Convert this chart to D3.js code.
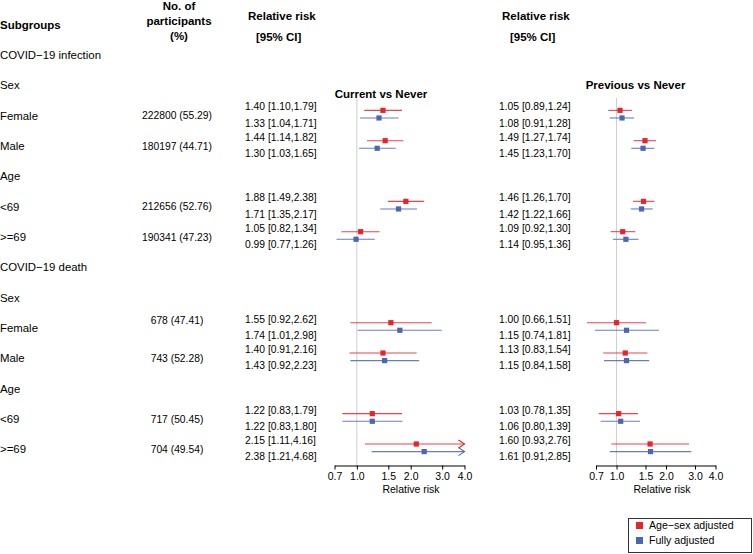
<!DOCTYPE html>
<html>
<head>
<meta charset="utf-8">
<script src="https://cdn.jsdelivr.net/npm/d3@7"></script>
<style>
  body { margin: 0; background: #fff; }
  svg { display: block; font-family: "Liberation Sans", Arial, sans-serif; }
</style>
</head>
<body>
<svg id="chart" width="753" height="554"></svg>
<script>
// ---------- data ----------
const subgroups = ["COVID\u221219 infection","Sex","Female","Male","Age","<69",">=69",
                   "COVID\u221219 death","Sex","Female","Male","Age","<69",">=69"];
const participants = ["","","222800 (55.29)","180197 (44.71)","","212656 (52.76)","190341 (47.23)",
                      "","","678 (47.41)","743 (52.28)","","717 (50.45)","704 (49.54)"];
const dataRows = [2,3,5,6,9,10,12,13];

const curAgeSexEst = [1.40,1.44,1.88,1.05,1.55,1.40,1.22,2.15];
const curAgeSexLo  = [1.10,1.14,1.49,0.82,0.92,0.91,0.83,1.11];
const curAgeSexHi  = [1.79,1.82,2.38,1.34,2.62,2.16,1.79,4.16];
const curFullEst   = [1.33,1.30,1.71,0.99,1.74,1.43,1.22,2.38];
const curFullLo    = [1.04,1.03,1.35,0.77,1.01,0.92,0.83,1.21];
const curFullHi    = [1.71,1.65,2.17,1.26,2.98,2.23,1.80,4.68];

const prevAgeSexEst = [1.05,1.49,1.46,1.09,1.00,1.13,1.03,1.60];
const prevAgeSexLo  = [0.89,1.27,1.26,0.92,0.66,0.83,0.78,0.93];
const prevAgeSexHi  = [1.24,1.74,1.70,1.30,1.51,1.54,1.35,2.76];
const prevFullEst   = [1.08,1.45,1.42,1.14,1.15,1.15,1.06,1.61];
const prevFullLo    = [0.91,1.23,1.22,0.95,0.74,0.84,0.80,0.91];
const prevFullHi    = [1.28,1.70,1.66,1.36,1.81,1.58,1.39,2.85];

const tickValues = [0.75,1,1.5,2,3,4];
const tickLabels = ["0.7","1.0","1.5","2.0","3.0","4.0"];
const seriesNames = ["Age\u2212sex adjusted","Fully adjusted"];
const panelTitles = ["Current vs Never","Previous vs Never"];

// ---------- layout ----------
const RED = "#e8232b", BLUE = "#4b67b2";
const svg = d3.select("#chart");
const y = d3.scaleLinear().domain([0, 13]).range([55, 449.3]);
const fmt = d3.format(".2f");

// headers
const hdr = svg.append("g").attr("font-weight","bold").attr("font-size","11.5px").attr("fill","#000");
hdr.append("text").attr("x",0).attr("y",25).attr("dy","0.35em").text("Subgroups");
hdr.append("text").attr("x",179).attr("y",6).attr("dy","0.35em").attr("text-anchor","middle").text("No. of");
hdr.append("text").attr("x",179).attr("y",21).attr("dy","0.35em").attr("text-anchor","middle").text("participants");
hdr.append("text").attr("x",179).attr("y",36).attr("dy","0.35em").attr("text-anchor","middle").text("(%)");

// subgroup labels
svg.append("g").selectAll("text").data(subgroups).join("text")
  .attr("x",0).attr("y",(d,i)=>y(i)).attr("dy","0.35em")
  .attr("font-size","11.4px").text(d=>d);

// participants
svg.append("g").selectAll("text").data(participants).join("text")
  .attr("x",177).attr("y",(d,i)=> i===9 ? y(i)-8 : y(i)).attr("dy","0.35em")
  .attr("text-anchor","middle").attr("font-size","10.3px").text(d=>d);

const panels = [
  { title: panelTitles[0], titleX: 381, titleY: 93.5, textX: 245, hdrX: 248, ciX: 256, labX: 411,
    range: [334.5, 464.5],
    a: {est: curAgeSexEst, lo: curAgeSexLo, hi: curAgeSexHi},
    f: {est: curFullEst, lo: curFullLo, hi: curFullHi} },
  { title: panelTitles[1], titleX: 635.5, titleY: 85, textX: 499, hdrX: 502, ciX: 510, labX: 662,
    range: [596, 715.5],
    a: {est: prevAgeSexEst, lo: prevAgeSexLo, hi: prevAgeSexHi},
    f: {est: prevFullEst, lo: prevFullLo, hi: prevFullHi} }
];

const axisY = 465.5;
const offs = { a: {mark: -5.3, text: -9}, f: {mark: 2.3, text: 7.3} };

panels.forEach(p => {
  const x = d3.scaleLog().domain([0.75, 4]).range(p.range);
  const g = svg.append("g");

  // column headers
  g.append("text").attr("x",p.hdrX).attr("y",15.5).attr("dy","0.35em")
    .attr("font-weight","bold").attr("font-size","11.5px").text("Relative risk");
  g.append("text").attr("x",p.ciX).attr("y",37).attr("dy","0.35em")
    .attr("font-weight","bold").attr("font-size","11.5px").text("[95% CI]");
  g.append("text").attr("x",p.titleX).attr("y",p.titleY).attr("dy","0.35em")
    .attr("text-anchor","middle").attr("font-weight","bold").attr("font-size","11.5px").text(p.title);

  // reference line
  g.append("line").attr("x1",x(1)).attr("x2",x(1)).attr("y1",98).attr("y2",axisY)
    .attr("stroke","#cfcfcf").attr("stroke-width",1);

  // series
  [["a",RED],["f",BLUE]].forEach(([k,col]) => {
    const s = p[k], o = offs[k];
    const rows = dataRows.map((r,i) => ({r, est:s.est[i], lo:s.lo[i], hi:s.hi[i]}));
    const gs = g.append("g");
    gs.selectAll("text.rr").data(rows).join("text").attr("class","rr")
      .attr("x",p.textX).attr("y",d=>y(d.r)+o.text).attr("dy","0.35em")
      .attr("font-size","10.3px")
      .text(d=>`${fmt(d.est)} [${fmt(d.lo)},${fmt(d.hi)}]`);
    gs.selectAll("line.ci").data(rows).join("line").attr("class","ci")
      .attr("x1",d=>x(d.lo)).attr("x2",d=>x(Math.min(d.hi,4)))
      .attr("y1",d=>y(d.r)+o.mark).attr("y2",d=>y(d.r)+o.mark)
      .attr("stroke",col).attr("stroke-width",1.1).attr("stroke-opacity",0.85);
    gs.selectAll("path.arr").data(rows.filter(d=>d.hi>4)).join("path").attr("class","arr")
      .attr("d",d=>{const xx=x(4), yy=y(d.r)+o.mark; return `M${xx-6},${yy-4}L${xx},${yy}L${xx-6},${yy+4}`;})
      .attr("fill","none").attr("stroke",col).attr("stroke-width",1.1);
    gs.selectAll("rect.pt").data(rows).join("rect").attr("class","pt")
      .attr("x",d=>x(d.est)-2.6).attr("y",d=>y(d.r)+o.mark-2.6)
      .attr("width",5.2).attr("height",5.2).attr("fill",col);
  });

  // axis
  const axis = d3.axisBottom(x).tickValues(tickValues)
    .tickFormat((d,i)=>tickLabels[i]).tickSize(4).tickSizeOuter(0).tickPadding(3);
  const ag = g.append("g").attr("transform",`translate(0,${axisY})`).call(axis);
  ag.select(".domain").attr("stroke","#000");
  ag.selectAll(".tick line").attr("stroke","#000");
  ag.selectAll(".tick text").attr("font-size","10.5px").attr("fill","#000")
    .attr("font-family","Liberation Sans, Arial, sans-serif");
  g.append("text").attr("x",p.labX).attr("y",489).attr("dy","0.35em")
    .attr("text-anchor","middle").attr("font-size","10.5px").text("Relative risk");
});

// legend
const lg = svg.append("g");
lg.append("rect").attr("x",628.5).attr("y",518.5).attr("width",123).attr("height",34)
  .attr("fill","#fff").attr("stroke","#333").attr("stroke-width",1);
[RED, BLUE].forEach((c,i) => {
  lg.append("rect").attr("x",636).attr("y",522+i*15).attr("width",7).attr("height",7).attr("fill",c);
  lg.append("text").attr("x",649).attr("y",525.7+i*15).attr("dy","0.35em")
    .attr("font-size","10.6px").text(seriesNames[i]);
});
</script>
</body>
</html>
